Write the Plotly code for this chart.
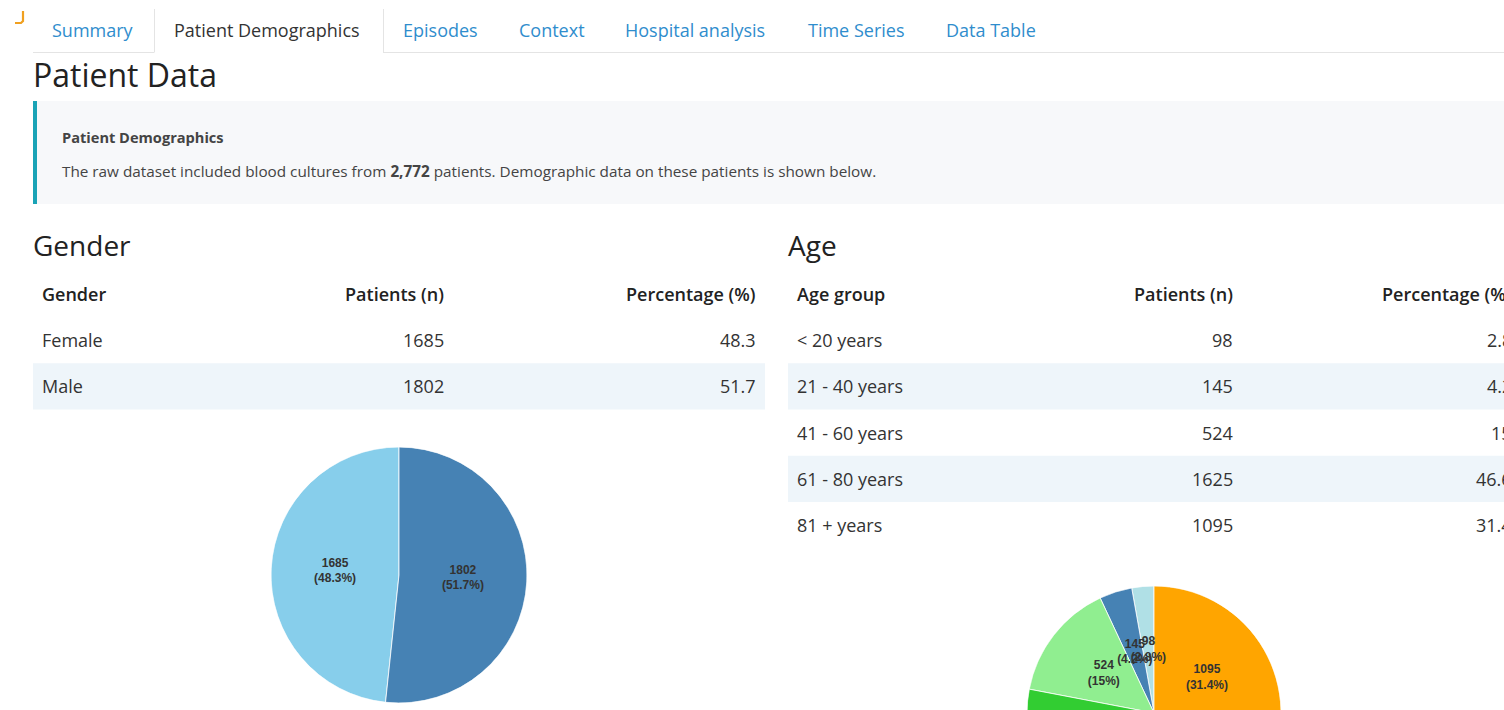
import plotly.graph_objects as go

# ---------------- data ----------------
tabs = ["Summary", "Patient Demographics", "Episodes", "Context",
        "Hospital analysis", "Time Series", "Data Table"]
active_tab = "Patient Demographics"
page_title = "Patient Data"
info_title = "Patient Demographics"
total_patients = "2,772"

gender_header = ["Gender", "Patients (n)", "Percentage (%)"]
gender_labels = ["Female", "Male"]
gender_n = [1685, 1802]
gender_pct = [48.3, 51.7]

age_header = ["Age group", "Patients (n)", "Percentage (%)"]
age_labels = ["< 20 years", "21 - 40 years", "41 - 60 years", "61 - 80 years", "81 + years"]
age_n = [98, 145, 524, 1625, 1095]
age_pct = [2.8, 4.2, 15, 46.6, 31.4]

# ---------------- styles / layout ----------------
W, H = 1504, 860
FONT = "Open Sans"
PIE_FONT = "Liberation Sans"
BLUE = "#2f8dcd"
DARK = "#333333"
BAND = "#eef5fa"
gender_colors = ["#87ceeb", "#4682b4"]
age_colors = ["#b0e0e6", "#4682b4", "#90ee90", "#32cd32", "#ffa500"]
tab_left = [52, 174, 403, 519, 625, 808, 946]


def X(px):
    return px / W


def Y(py):
    return 1 - py / H


annotations = []
shapes = []


def txt(s, x, y, size, color=DARK, xanchor="left", weight=None, family=FONT):
    f = dict(family=family, size=size, color=color)
    if weight:
        f["weight"] = weight
    dx = -2 if xanchor == "left" else 2
    annotations.append(dict(text=s, x=X(x + dx), y=Y(y), xref="paper", yref="paper",
                            xanchor=xanchor, yanchor="middle", showarrow=False,
                            font=f))


def rect(x0, y0, x1, y1, fill):
    shapes.append(dict(type="rect", xref="paper", yref="paper",
                       x0=X(x0), x1=X(x1), y0=Y(y1), y1=Y(y0),
                       fillcolor=fill, line=dict(width=0), layer="below"))


def line(x0, y0, x1, y1, color, width=1):
    shapes.append(dict(type="line", xref="paper", yref="paper",
                       x0=X(x0), x1=X(x1), y0=Y(y0), y1=Y(y1),
                       line=dict(color=color, width=width), layer="below"))


# logo fragment
shapes.append(dict(type="path", xref="paper", yref="paper",
                   path=f"M {X(23)} {Y(11)} L {X(23)} {Y(21)} L {X(21)} {Y(23)} L {X(15)} {Y(23)}",
                   line=dict(color="#f0a020", width=2.2)))

# tabs
line(33, 52.5, 154, 52.5, "#e4e4e4")
line(383, 52.5, 1504, 52.5, "#e4e4e4")
line(154.5, 9, 154.5, 52.5, "#e4e4e4")
line(383.5, 9, 383.5, 52.5, "#e4e4e4")
for t, xl in zip(tabs, tab_left):
    txt(t, xl, 30, 18, DARK if t == active_tab else BLUE)

# page title
txt(page_title, 33, 74, 32, "#222222")

# info box
rect(33, 101, 1504, 204, "#f7f8fa")
rect(33, 101, 37, 204, "#1aa3b6")
txt(f"<b>{info_title}</b>", 62, 137, 14.6, "#444444")
txt(f"The raw dataset included blood cultures from <b>{total_patients}</b> patients. "
    "Demographic data on these patients is shown below.", 62, 171, 15.3, "#444444")

# section headings
txt("Gender", 33, 245, 28, "#222222")
txt("Age", 788, 245, 28, "#222222")

# tables
ROW0, ROWH = 294, 46.2


def table(x0, x1, cols, header, labels, ns, pcts):
    for k, (h, c) in enumerate(zip(header, cols)):
        txt(h, c, ROW0, 18, "#222222", "left" if k == 0 else "right", weight=600)
    for i, (lab, n, p) in enumerate(zip(labels, ns, pcts)):
        yc = ROW0 + ROWH * (i + 1)
        if i % 2 == 1:
            rect(x0, yc - ROWH / 2, x1, yc + ROWH / 2, BAND)
        txt(lab, cols[0], yc, 18, DARK, "left")
        txt(str(n), cols[1], yc, 18, DARK, "right")
        txt(f"{p:g}", cols[2], yc, 18, DARK, "right")


table(33, 765, [42, 444, 756], gender_header, gender_labels, gender_n, gender_pct)
table(788, 1504, [797, 1233, 1512], age_header, age_labels, age_n, age_pct)

fig = go.Figure()


def pie_polar(labels, values, pcts, colors, cx, cy, r, polar_name):
    """Pie drawn as full-radius polar bars, labelled at half radius."""
    dom = dict(x=[X(cx - r), X(cx + r)], y=[Y(cy + r), Y(cy - r)])
    total = sum(values)
    cum, mids, widths = 0, [], []
    for v in values:
        widths.append(v / total * 360)
        mids.append((cum + v / 2) / total * 360)
        cum += v
    fig.add_trace(go.Barpolar(r=[1] * len(values), theta=mids, width=widths,
                              marker=dict(color=colors, line=dict(color="white", width=0.8)),
                              subplot=polar_name, hoverinfo="skip", showlegend=False,
                              customdata=labels))
    texts = [f"<b>{v}<br>({p:g}%)</b>" for v, p in zip(values, pcts)]
    fig.add_trace(go.Scatterpolar(r=[0.5] * len(values), theta=mids, text=texts,
                                  mode="text", subplot=polar_name,
                                  textfont=dict(family=PIE_FONT, size=12, color="#333333"),
                                  hoverinfo="skip", showlegend=False))
    hidden = dict(visible=False, showgrid=False, showline=False, showticklabels=False, ticks="")
    return dict(domain=dom, bgcolor="rgba(0,0,0,0)", bargap=0, hole=0,
                radialaxis=dict(range=[0, 1], **hidden),
                angularaxis=dict(rotation=90, direction="counterclockwise", **hidden))


p1 = pie_polar(gender_labels, gender_n, gender_pct, gender_colors, 399, 575, 128, "polar")
p2 = pie_polar(age_labels, age_n, age_pct, age_colors, 1154, 713, 127, "polar2")

fig.update_layout(width=W, height=H, margin=dict(l=0, r=0, t=0, b=0),
                  paper_bgcolor="white", plot_bgcolor="white",
                  polar=p1, polar2=p2,
                  annotations=annotations, shapes=shapes)

fig.write_html("out.html", config={"displayModeBar": False},
               post_script="document.body.style.margin='0';document.body.style.overflow='hidden';")
